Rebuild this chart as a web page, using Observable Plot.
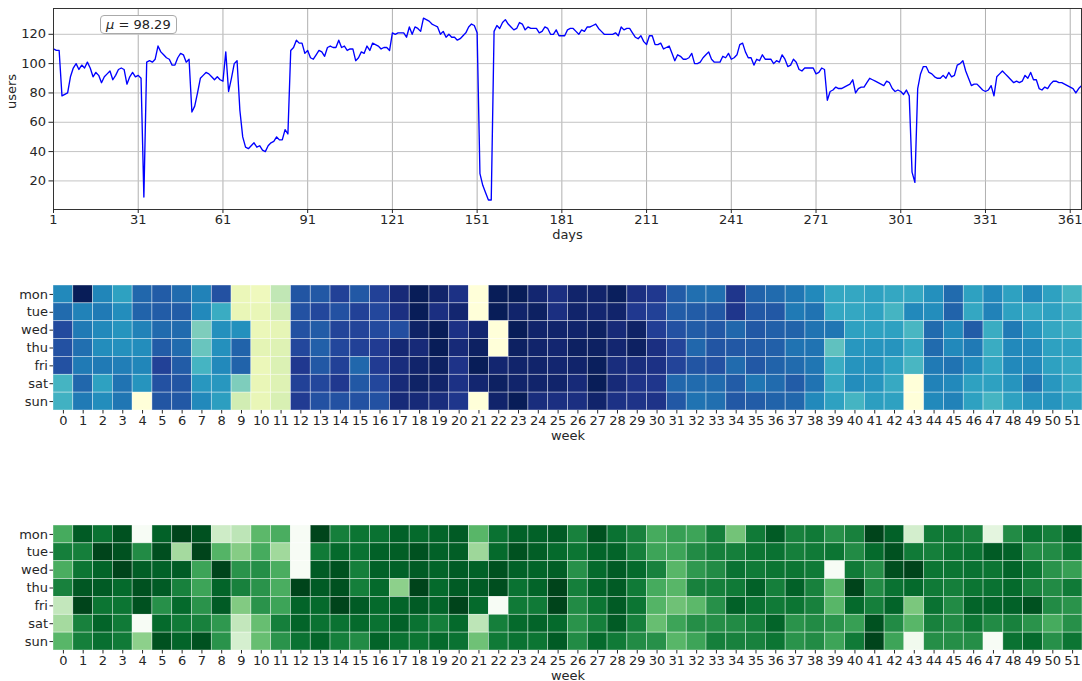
<!DOCTYPE html>
<html><head><meta charset="utf-8">
<script src="https://cdn.jsdelivr.net/npm/d3@7"></script>
<script src="https://cdn.jsdelivr.net/npm/@observablehq/plot@0.6"></script>
<style>
body{margin:0;background:#fff;}
#fig{position:relative;width:1082px;height:681px;font-family:"DejaVu Sans",sans-serif;overflow:hidden;}
#fig > div.pl{position:absolute;left:0;width:1082px;}
#fig > div#mu{position:absolute;left:100px;top:15px;height:17px;padding:0 5px;border:1px solid #aaa;border-radius:4px;background:#fff;font:13px "DejaVu Sans";color:#222;line-height:17px;}
</style></head><body>
<div id="fig"><div class="pl" id="p1" style="top:0"></div><div class="pl" id="p2" style="top:270px"></div><div class="pl" id="p3" style="top:510px"></div><div id="mu"></div></div>
<script>
// daily users, day 1..365
const users = [
110,109,109,78,79,80,91,97,100,96,
99,97,101,97,91,94,92,87,91,93,
95,89,92,96,97,96,86,91,94,91,
92,90,9,101,102,101,103,112,108,106,
104,103,99,99,104,107,106,101,103,67,
71,80,90,92,94,93,91,89,91,89,
88,108,81,90,100,102,68,50,43,42,
44,46,43,44,41,40,44,46,47,50,
48,48,55,52,109,111,116,114,114,107,
109,104,103,106,109,108,105,111,112,111,
111,116,111,112,109,110,110,102,104,108,
107,112,109,114,113,112,110,111,111,109,
121,120,121,121,121,118,125,120,125,124,
122,131,130,129,127,126,125,120,122,118,
120,118,118,116,117,119,121,125,127,126,
121,25,17,12,7,7,122,126,124,128,
130,127,125,123,124,128,127,123,125,124,
124,124,121,122,125,124,120,120,123,119,
119,119,123,124,124,122,120,123,122,125,
125,126,127,124,122,120,120,120,120,121,
119,125,123,124,124,121,118,117,119,115,
113,119,119,113,113,114,110,111,112,107,
102,106,105,103,103,104,107,100,100,101,
104,106,108,103,101,101,101,105,104,107,
103,104,106,113,114,108,104,104,99,103,
102,106,103,103,103,100,102,101,106,103,
98,99,103,101,96,95,97,97,97,97,
93,94,97,96,75,81,82,84,83,83,
84,85,86,89,80,83,84,84,87,90,
89,88,87,86,85,88,87,83,81,82,
81,79,82,78,26,19,83,93,98,98,
94,93,91,90,90,92,90,94,91,92,
99,100,102,95,90,85,86,86,84,82,
81,82,85,78,91,93,95,93,91,89,
87,88,87,88,92,90,94,89,89,83,
82,84,83,86,88,88,87,87,86,85,
84,83,80,83,85];
const dayTicks = [1,31,61,91,121,151,181,211,241,271,301,331,361];
const userTicks = [20,40,60,80,100,120];
const meanLabel = "98.29";

const weekdays = ["mon","tue","wed","thu","fri","sat","sun"];
const weeks = Array.from({length:52},(_,i)=>i);

// first heatmap (YlGnBu level, 0-100), one array per weekday, weeks 0..51
const blueMon = [64,100,65,57,73,76,72,66,79,12,10,25,78,77,84,77,84,93,100,96,90,0,100,100,95,91,96,96,99,91,87,76,71,71,88,74,72,69,64,55,55,57,55,55,62,72,57,64,57,64,57,50];
const blueTue = [72,66,68,63,74,76,76,64,53,13,13,21,79,82,79,84,82,91,100,91,95,0,100,96,98,91,96,95,96,87,84,76,76,77,88,77,77,68,70,55,55,57,50,64,63,74,55,66,57,55,57,53];
const blueWed = [81,68,64,61,66,72,72,38,62,62,12,14,79,76,83,83,81,80,97,100,90,95,0,100,96,96,96,98,93,97,85,79,76,77,73,77,75,74,70,69,57,57,57,49,72,64,76,53,68,61,55,53];
const blueThu = [79,71,63,62,63,76,72,42,62,74,15,17,82,75,82,84,86,94,93,100,93,98,0,98,96,95,98,98,95,98,91,83,73,78,77,76,75,70,70,44,60,61,61,54,72,64,68,53,64,64,57,57];
const blueFri = [79,68,68,67,65,84,76,50,64,74,12,18,87,77,84,73,86,92,96,98,89,100,95,96,96,95,96,99,92,92,90,83,78,79,72,77,74,72,69,53,61,62,57,49,68,70,64,55,64,64,57,55];
const blueSat = [50,73,57,70,61,79,78,60,60,38,13,17,84,82,87,77,82,93,97,96,90,95,98,96,96,96,93,100,93,89,88,73,72,72,76,69,72,76,70,54,63,61,54,0,66,64,57,57,61,69,60,55];
const blueSun = [51,68,63,69,0,78,77,64,58,21,13,19,86,79,79,79,79,93,93,92,88,0,96,100,92,91,91,96,90,89,89,77,70,71,77,76,74,73,64,57,50,58,57,0,64,66,57,50,57,61,61,57];

// second heatmap (Greens level, 0-100)
const greenMon = [62,93,85,96,0,91,100,96,22,28,56,61,0,100,80,84,85,91,88,90,93,57,85,91,91,93,79,96,85,79,62,67,65,80,50,82,93,79,82,73,79,100,91,20,82,82,79,12,75,85,80,91];
const greenTue = [80,80,100,96,75,97,36,100,58,45,62,37,0,82,88,85,91,92,96,91,92,38,88,96,92,88,84,90,90,80,65,65,75,80,80,84,85,80,82,84,75,88,96,82,80,84,85,93,91,75,75,84];
const greenWed = [61,84,90,100,92,91,93,65,100,72,74,61,0,93,96,80,91,91,93,90,93,91,96,91,90,92,73,88,93,88,79,57,70,75,85,82,84,84,82,0,82,74,97,100,84,84,85,84,90,84,72,67];
const greenThu = [79,94,93,88,96,93,79,65,90,79,72,61,100,93,96,80,88,43,100,88,93,93,97,85,90,100,80,90,93,82,62,57,79,80,82,91,80,91,79,57,100,75,85,88,82,80,84,85,88,79,75,82];
const greenFri = [26,100,84,84,96,73,88,72,93,46,72,65,90,88,100,93,88,90,93,90,100,88,0,82,82,100,75,84,93,84,58,51,56,73,91,85,82,84,79,57,88,80,90,48,85,75,90,90,91,96,75,72];
const greenSat = [36,79,90,82,0,88,82,79,70,26,53,80,90,85,85,88,85,91,85,80,88,28,80,88,90,88,72,80,93,80,53,65,74,74,75,80,90,72,75,72,67,96,75,57,79,75,84,75,79,72,62,73];
const greenSun = [57,80,86,82,43,96,90,96,72,19,53,72,85,90,80,75,90,85,84,88,85,51,82,85,84,93,75,88,82,75,73,57,65,80,79,79,84,72,75,65,82,100,65,4,74,74,74,0,85,88,73,84];

const txt = "#262626";
const font = {fontFamily:"DejaVu Sans", fontSize:"13px", color:txt, background:"white"};

const series = users.map((u,i)=>({day:i+1, users:u}));

const p1 = Plot.plot({
  width:1082, height:245, marginLeft:53, marginRight:1, marginTop:8, marginBottom:36,
  style:font,
  x:{domain:[1,365]}, y:{domain:[0.5,137.6]},
  marks:[
    Plot.gridX(dayTicks,{stroke:"#b0b0b0", strokeOpacity:1, strokeWidth:1}),
    Plot.gridY(userTicks,{stroke:"#c4c4c4", strokeOpacity:1, strokeWidth:1}),
    Plot.line(series,{x:"day", y:"users", stroke:"#0000ff", strokeWidth:1.35}),
    Plot.frame({stroke:"#333", strokeWidth:1}),
    Plot.axisX(dayTicks,{tickSize:4, tickPadding:1.5, label:null, fill:txt}),
    Plot.axisY(userTicks,{tickSize:4.5, tickPadding:3, label:null, fill:txt}),
    Plot.text(["days"],{frameAnchor:"bottom", dy:29, fill:txt, fontSize:13}),
    Plot.text(["users"],{frameAnchor:"left", dx:-42, rotate:-90, fill:txt, fontSize:13})
  ]
});
document.getElementById("p1").append(p1);
document.getElementById("mu").innerHTML = "<i>μ</i> = " + meanLabel;

function heat(rowsArr, scheme){
  const cells = weekdays.flatMap((d,j)=>rowsArr[j].map((v,w)=>({week:w, day:d, v})));
  return Plot.plot({
    width:1082, height:171, marginLeft:53, marginRight:0, marginTop:15, marginBottom:31,
    style:font,
    x:{type:"band", domain:weeks, padding:0, round:false},
    y:{type:"band", domain:weekdays, padding:0, round:false},
    color:{type:"linear", scheme, domain:[0,100]},
    marks:[
      Plot.cell(cells,{x:"week", y:"day", fill:"v", inset:0, stroke:"white", strokeWidth:0.7, strokeOpacity:0.55}),
      Plot.axisX({tickSize:3.5, tickPadding:1.5, label:null, fill:txt}),
      Plot.axisY({tickSize:3.5, tickPadding:2, label:null, fill:txt}),
      Plot.text(["week"],{frameAnchor:"bottom", dy:29, fill:txt, fontSize:13})
    ]
  });
}
document.getElementById("p2").append(heat([blueMon,blueTue,blueWed,blueThu,blueFri,blueSat,blueSun],"ylgnbu"));
document.getElementById("p3").append(heat([greenMon,greenTue,greenWed,greenThu,greenFri,greenSat,greenSun],"greens"));
</script>
</body></html>
